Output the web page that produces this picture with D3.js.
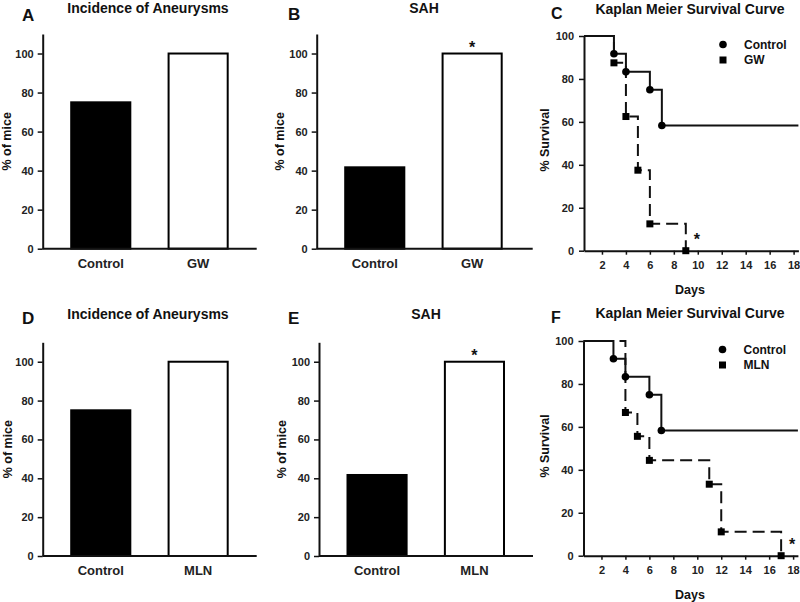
<!DOCTYPE html>
<html><head><meta charset="utf-8">
<script src="https://cdn.jsdelivr.net/npm/d3@7"></script>
<style>
html,body{margin:0;padding:0;background:#fff;}
svg{display:block;font-family:"Liberation Sans",Arial,Helvetica,sans-serif;}
</style></head><body>
<svg id="chart" width="800" height="602"></svg>
<script>
// ---------- data ----------
const barCategoriesGW = ["Control", "GW"];
const barCategoriesMLN = ["Control", "MLN"];
const aneurysmGW = [75, 100];
const sahGW = [41.7, 100];
const aneurysmMLN = [75, 100];
const sahMLN = [41.7, 100];
const barYTicks = [0, 20, 40, 60, 80, 100];
const kmYTicks = [0, 20, 40, 60, 80, 100];
const kmXTicks = [2, 4, 6, 8, 10, 12, 14, 16, 18];
const controlDays = [3, 4, 6, 7];
const controlSurvival = [91.7, 83.3, 75, 58.3];
const gwDays = [3, 4, 5, 6, 9];
const gwSurvival = [87.5, 62.5, 37.5, 12.5, 0];
const mlnDays = [4, 5, 6, 11, 12, 17];
const mlnSurvival = [66.7, 55.6, 44.4, 33.3, 11.1, 0];
const barTitles = ["Incidence of Aneurysms", "SAH"];
const kmTitle = "Kaplan Meier Survival Curve";

// ---------- drawing ----------
const svg = d3.select("#chart");
const INK = "#111";

function styleAxis(g, fs) {
  g.select(".domain").attr("stroke", INK).attr("stroke-width", 2);
  g.selectAll(".tick line").attr("stroke", INK).attr("stroke-width", 1.5);
  g.selectAll(".tick text").attr("fill", "#222").attr("font-size", fs)
    .attr("font-weight", "bold").attr("font-family", "Liberation Sans, Arial, sans-serif");
}

function addText(txt, x, y, size, opts = {}) {
  return svg.append("text").attr("x", x).attr("y", y).text(txt)
    .attr("font-size", size).attr("font-weight", "bold").attr("fill", INK)
    .attr("text-anchor", opts.anchor || "start");
}

function yLabel(txt, x, y) {
  svg.append("text").attr("transform", `translate(${x},${y}) rotate(-90)`)
    .attr("text-anchor", "middle").attr("dominant-baseline", "central")
    .attr("font-size", 12.5).attr("font-weight", "bold").attr("fill", INK).text(txt);
}

function barPanel(o) {
  const g = svg.append("g");
  const y = d3.scaleLinear().domain([0, 110]).range([o.bottom, o.top]);
  const x = d3.scaleBand().domain(o.cats)
    .range([o.left + 28.5, o.left + 185]).paddingInner(0.393).paddingOuter(0);
  const rows = o.cats.map((c, i) => ({ c, v: o.values[i], i }));
  g.selectAll("rect").data(rows).join("rect")
    .attr("x", d => x(d.c)).attr("width", x.bandwidth())
    .attr("y", d => y(d.v)).attr("height", d => y(0) - y(d.v))
    .attr("fill", d => d.i === 0 ? "#000" : "#fff")
    .attr("stroke", "#000").attr("stroke-width", 2);
  // x baseline
  g.append("line").attr("x1", o.left).attr("x2", o.left + o.axisLen)
    .attr("y1", y(0)).attr("y2", y(0)).attr("stroke", INK).attr("stroke-width", 2);
  const xa = g.append("g").attr("transform", `translate(0,${y(0)})`)
    .call(d3.axisBottom(x).tickSize(0).tickPadding(10));
  xa.select(".domain").remove();
  styleAxis(xa, 13);
  const ya = g.append("g").attr("transform", `translate(${o.left},0)`)
    .call(d3.axisLeft(y).tickValues(barYTicks).tickSize(5).tickPadding(4).tickSizeOuter(0));
  styleAxis(ya, 11);
  if (o.star) {
    g.append("text").attr("x", x(o.cats[1]) + x.bandwidth() / 2).attr("y", y(100) - 1)
      .attr("text-anchor", "middle").attr("font-size", 16).attr("font-weight", "bold")
      .attr("fill", INK).text("*");
  }
  addText(o.title, o.titleX, o.titleY, 14, { anchor: "middle" });
  addText(o.letter, o.letterX, o.letterY, 17);
  yLabel("% of mice", o.ylabX, (o.top + o.bottom) / 2);
}

function kmPanel(o) {
  const g = svg.append("g");
  const x = d3.scaleLinear().domain([0.5, 18.4]).range([o.left, o.left + 214.4]);
  const y = d3.scaleLinear().domain([0, 100]).range([o.bottom, o.top]);
  const ya = g.append("g").attr("transform", `translate(${o.left},0)`)
    .call(d3.axisLeft(y).tickValues(kmYTicks).tickSize(5).tickPadding(5).tickSizeOuter(0));
  styleAxis(ya, 11);
  const xa = g.append("g").attr("transform", `translate(0,${o.bottom})`)
    .call(d3.axisBottom(x).tickValues(kmXTicks).tickSize(4).tickPadding(7).tickSizeOuter(0));
  styleAxis(xa, 11);

  const line = d3.line().x(d => x(d[0])).y(d => y(d[1])).curve(d3.curveStepAfter);
  const ctrlPts = [[0.5, 100]].concat(controlDays.map((d, i) => [d, controlSurvival[i]]))
    .concat([[18.4, controlSurvival[controlSurvival.length - 1]]]);
  const trtPts = [[0.5, 100]].concat(o.days.map((d, i) => [d, o.surv[i]]));
  g.append("path").attr("d", line(trtPts)).attr("fill", "none").attr("stroke", INK)
    .attr("stroke-width", 2).attr("stroke-dasharray", "12,6");
  g.append("path").attr("d", line(ctrlPts)).attr("fill", "none").attr("stroke", INK)
    .attr("stroke-width", 2);
  g.selectAll("circle.c").data(controlDays.map((d, i) => [d, controlSurvival[i]])).join("circle")
    .attr("class", "c").attr("cx", d => x(d[0])).attr("cy", d => y(d[1])).attr("r", 3.8).attr("fill", "#000");
  g.selectAll("rect.s").data(o.days.map((d, i) => [d, o.surv[i]])).join("rect")
    .attr("class", "s").attr("x", d => x(d[0]) - 3.5).attr("y", d => y(d[1]) - 3.5)
    .attr("width", 7).attr("height", 7).attr("fill", "#000");
  // star
  g.append("text").attr("x", x(o.days[o.days.length - 1]) + 11).attr("y", y(0) - 6)
    .attr("text-anchor", "middle").attr("font-size", 16).attr("font-weight", "bold")
    .attr("fill", INK).text("*");
  // legend
  const lx = o.left + 139;
  g.append("circle").attr("cx", lx).attr("cy", o.top + 8.5).attr("r", 3.8).attr("fill", "#000");
  g.append("rect").attr("x", lx - 3.5).attr("y", o.top + 24 - 3.5).attr("width", 7).attr("height", 7).attr("fill", "#000");
  g.append("text").attr("x", lx + 21).attr("y", o.top + 8.5).attr("dominant-baseline", "central")
    .attr("font-size", 12).attr("font-weight", "bold").attr("fill", INK).text("Control");
  g.append("text").attr("x", lx + 21).attr("y", o.top + 24).attr("dominant-baseline", "central")
    .attr("font-size", 12).attr("font-weight", "bold").attr("fill", INK).text(o.name);

  addText(kmTitle, 690, o.titleY, 14, { anchor: "middle" });
  addText(o.letter, 551, o.letterY, 16);
  yLabel("% Survival", 545, o.ylabY);
  svg.append("text").attr("x", 690).attr("y", o.bottom + 39).attr("dominant-baseline", "central")
    .attr("text-anchor", "middle").attr("font-size", 12.5).attr("font-weight", "bold").attr("fill", INK).text("Days");
}

barPanel({ left: 42.7, top: 34, bottom: 248.7, axisLen: 214, cats: barCategoriesGW, values: aneurysmGW,
  title: barTitles[0], titleX: 148, titleY: 13, letter: "A", letterX: 22, letterY: 21, ylabX: 7, star: false });
barPanel({ left: 316.7, top: 34, bottom: 248.7, axisLen: 216, cats: barCategoriesGW, values: sahGW,
  title: barTitles[1], titleX: 424, titleY: 13, letter: "B", letterX: 288, letterY: 20, ylabX: 280, star: true });
barPanel({ left: 42.7, top: 342.3, bottom: 556, axisLen: 214, cats: barCategoriesMLN, values: aneurysmMLN,
  title: barTitles[0], titleX: 148, titleY: 319, letter: "D", letterX: 22, letterY: 324, ylabX: 7.5, star: false });
barPanel({ left: 319, top: 342.3, bottom: 556, axisLen: 214, cats: barCategoriesMLN, values: sahMLN,
  title: barTitles[1], titleX: 426, titleY: 319, letter: "E", letterX: 288, letterY: 324, ylabX: 282, star: true });
kmPanel({ left: 584, top: 36, bottom: 250.7, days: gwDays, surv: gwSurvival, name: "GW",
  titleY: 14, letter: "C", letterY: 19, ylabY: 140 });
kmPanel({ left: 583.5, top: 341, bottom: 555.7, days: mlnDays, surv: mlnSurvival, name: "MLN",
  titleY: 318, letter: "F", letterY: 323, ylabY: 446 });
</script>
</body></html>
